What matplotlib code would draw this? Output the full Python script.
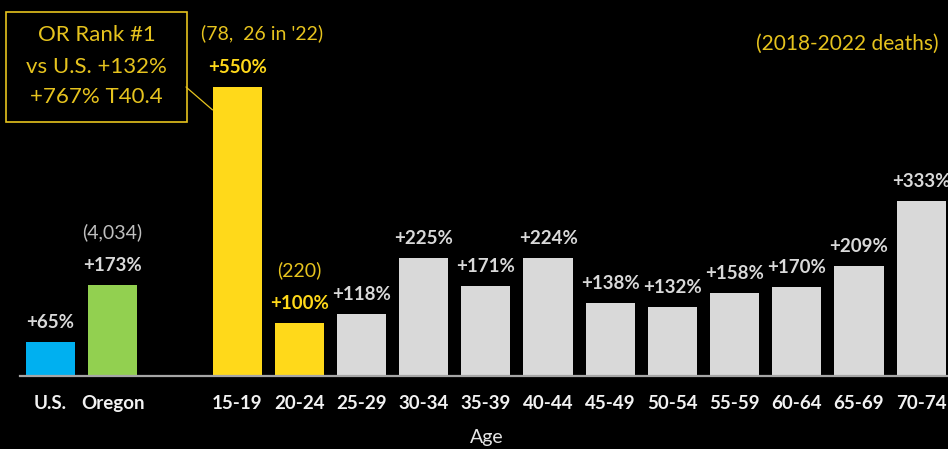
import matplotlib
matplotlib.use('Agg')
import matplotlib.pyplot as plt
from matplotlib.patches import Rectangle

plt.rcParams['font.family'] = ['Lato', 'DejaVu Sans']

# slot positions: U.S., Oregon, (gap), then the age groups
groups = ['U.S.', 'Oregon', '15-19', '20-24', '25-29', '30-34', '35-39', '40-44',
          '45-49', '50-54', '55-59', '60-64', '65-69', '70-74']
slots = [0, 1, 3, 4, 5, 6, 7, 8, 9, 10, 11, 12, 13, 14]
pct_change = [65, 173, 550, 100, 118, 225, 171, 224, 138, 132, 158, 170, 209, 333]
bar_colors = ['#00B0F0', '#92D050', '#FFD91A', '#FFD91A'] + ['#D9D9D9'] * 10
label_colors = ['#D9D9D9', '#D9D9D9', '#FFD91A', '#FFD91A'] + ['#D9D9D9'] * 10

# death counts shown in parentheses above a few bars
counts = {'Oregon': '(4,034)', '15-19': "(78,  26 in '22)", '20-24': '(220)'}
count_colors = {'Oregon': '#BFBFBF', '15-19': '#E6C31E', '20-24': '#E6C31E'}
count_shift = {'Oregon': 0, '15-19': 18, '20-24': 0}

gold = '#E6C31E'
bar_w = 0.79

fig = plt.figure(figsize=(9.48, 4.49), dpi=100, facecolor='black')
ax = fig.add_axes([20 / 948, 0, 928 / 948, 1], facecolor='black')

ax.bar(slots, pct_change, width=bar_w, color=bar_colors, zorder=2)

for s, v, c in zip(slots, pct_change, label_colors):
    ax.annotate(f'+{v}%', xy=(s, v), xytext=(0, 10), textcoords='offset points',
                ha='center', va='baseline', fontsize=13.5, fontweight='bold',
                color=c, annotation_clip=False)

for g, txt in counts.items():
    i = groups.index(g)
    ax.annotate(txt, xy=(slots[i], pct_change[i]), xytext=(count_shift[g], 34),
                textcoords='offset points', ha='center', va='baseline',
                fontsize=14, color=count_colors[g])

# category names under the baseline
for s, g in zip(slots, groups):
    ax.annotate(g, xy=(s, 0), xytext=(0, -20), textcoords='offset points',
                ha='center', va='center', fontsize=13.5, fontweight='bold',
                color='#F2F2F2', annotation_clip=False)

ax.set_xlim(-0.49, 14.43)
ax.set_ylim(-139, 715)
ax.set_xticks([])
ax.set_yticks([])
for side in ['top', 'right', 'left']:
    ax.spines[side].set_visible(False)
ax.spines['bottom'].set_position(('data', 0))
ax.spines['bottom'].set_color('#A6A6A6')
ax.spines['bottom'].set_linewidth(1.6)

fig.text(487 / 948, 1 - 437 / 449, 'Age', ha='center', va='center',
         fontsize=14, color='#E6E6E6')
fig.text(847 / 948, 1 - 44 / 449, '(2018-2022 deaths)', ha='center', va='center',
         fontsize=15, color=gold)

# callout box
fig.patches.append(Rectangle((6 / 948, 1 - 122 / 449), 181 / 948, 110 / 449,
                             transform=fig.transFigure, fill=False,
                             edgecolor=gold, linewidth=1.2))
for y, line in zip([35, 67, 97], ['OR Rank #1', 'vs U.S. +132%', '+767% T40.4']):
    fig.text(96.5 / 948, 1 - y / 449, line, ha='center', va='center',
             fontsize=16, color=gold)

i = groups.index('15-19')
ax.annotate('', xy=(slots[i] - bar_w / 2, pct_change[i] - 44), xytext=(186, 449 - 87),
            textcoords='figure pixels',
            arrowprops=dict(arrowstyle='-', color=gold, lw=0.9, shrinkA=0, shrinkB=0))

fig.savefig('out.png', dpi=100, facecolor='black')
